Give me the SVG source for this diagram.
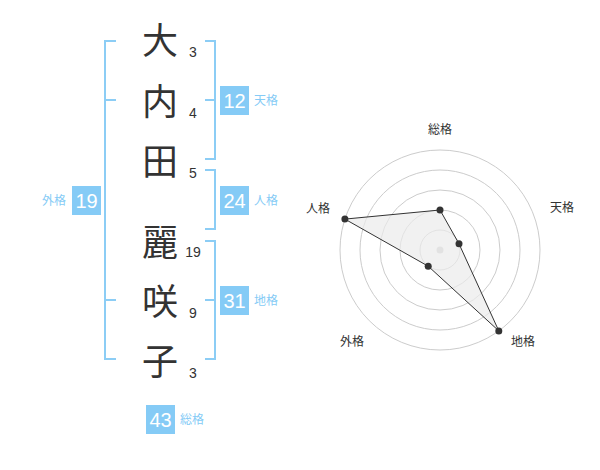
<svg xmlns="http://www.w3.org/2000/svg" width="600" height="470" viewBox="0 0 600 470">
<style>
.kanji{font-family:"Noto Sans CJK JP","Noto Sans CJK SC",sans-serif;font-size:36px;fill:#333;text-anchor:middle}
.stroke{font-family:"Liberation Sans",Arial,sans-serif;font-size:14px;fill:#333;text-anchor:middle}
.br{fill:none;stroke:#8ccdf5;stroke-width:2}
.box{fill:#85cbf6}
.boxnum{font-family:"Liberation Sans",Arial,sans-serif;font-size:20px;fill:#fff;text-anchor:middle}
.lbl{font-family:"Noto Sans CJK JP","Noto Sans CJK SC",sans-serif;font-size:12px;fill:#85cbf6}
.rl{font-family:"Noto Sans CJK JP","Noto Sans CJK SC",sans-serif;font-size:12px;fill:#333;text-anchor:middle}
.ring{fill:none;stroke:#ccc;stroke-width:1}
.dot{fill:#333}
</style>
<rect width="600" height="470" fill="#fff"/>
<g id="name">
<text class="kanji" x="160" y="54">大</text>
<text class="kanji" x="160" y="115">内</text>
<text class="kanji" x="160" y="175">田</text>
<text class="kanji" x="160" y="256">麗</text>
<text class="kanji" x="160" y="315">咲</text>
<text class="kanji" x="160" y="375">子</text>
</g>
<g id="strokes">
<text class="stroke" x="193" y="57">3</text>
<text class="stroke" x="193" y="118">4</text>
<text class="stroke" x="193" y="178">5</text>
<text class="stroke" x="193" y="257">19</text>
<text class="stroke" x="193" y="318">9</text>
<text class="stroke" x="193" y="378">3</text>
</g>
<g id="connectors">
<path class="br" d="M116,41 H105 V359 H116 M105,100 H116 M105,300 H116"/>
<path class="br" d="M205,41 H215 V159 H205 M205,100 H215"/>
<path class="br" d="M205,170 H215 V229 H205"/>
<path class="br" d="M205,241 H215 V359 H205 M205,300 H215"/>
</g>
<g id="tenkaku">
<rect class="box" x="220" y="86" width="29" height="29"/>
<text class="boxnum" x="234.5" y="108">12</text>
<text class="lbl" x="254" y="105">天格</text>
</g>
<g id="jinkaku">
<rect class="box" x="220" y="186" width="29" height="29"/>
<text class="boxnum" x="234.5" y="208">24</text>
<text class="lbl" x="254" y="205">人格</text>
</g>
<g id="chikaku">
<rect class="box" x="220" y="286" width="29" height="29"/>
<text class="boxnum" x="234.5" y="308">31</text>
<text class="lbl" x="254" y="305">地格</text>
</g>
<g id="gaikaku">
<rect class="box" x="72" y="186" width="29" height="29"/>
<text class="boxnum" x="86.5" y="208">19</text>
<text class="lbl" x="42" y="205">外格</text>
</g>
<g id="soukaku">
<rect class="box" x="146" y="405" width="29" height="29"/>
<text class="boxnum" x="160.5" y="427">43</text>
<text class="lbl" x="180" y="424">総格</text>
</g>
<g id="radar">
<circle class="ring" cx="440" cy="250" r="20"/>
<circle class="ring" cx="440" cy="250" r="40"/>
<circle class="ring" cx="440" cy="250" r="60"/>
<circle class="ring" cx="440" cy="250" r="80"/>
<circle class="ring" cx="440" cy="250" r="100"/>
<circle cx="440" cy="250" r="3.5" fill="#ccc"/>
<polygon points="440,210 459,243.8 498.8,330.9 428.2,266.2 344.9,219.1" fill="#ebebeb" fill-opacity="0.7" stroke="#333" stroke-width="1"/>
<circle class="dot" cx="440" cy="210" r="3.5"/>
<circle class="dot" cx="459" cy="243.8" r="3.5"/>
<circle class="dot" cx="498.8" cy="330.9" r="3.5"/>
<circle class="dot" cx="428.2" cy="266.2" r="3.5"/>
<circle class="dot" cx="344.9" cy="219.1" r="3.5"/>
<text class="rl" x="440" y="134">総格</text>
<text class="rl" x="562" y="212">天格</text>
<text class="rl" x="523" y="346">地格</text>
<text class="rl" x="352" y="346">外格</text>
<text class="rl" x="318" y="213">人格</text>
</g>
</svg>
